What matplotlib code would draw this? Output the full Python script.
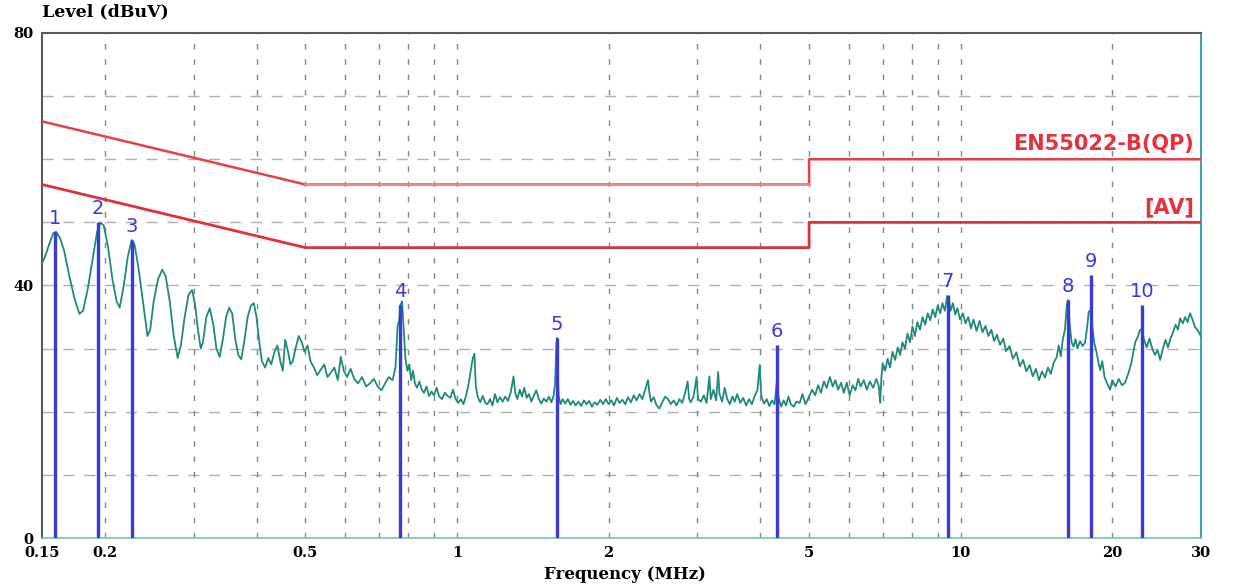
import matplotlib.pyplot as plt
from matplotlib.ticker import FixedLocator, NullLocator

# --- 測定データ (MHz, dBuV) ---
spec_freq = [
    0.150, 0.152, 0.155, 0.158, 0.160, 0.163, 0.166, 0.170, 0.174, 0.178,
    0.181, 0.185, 0.189, 0.193, 0.196, 0.199, 0.203, 0.207, 0.211, 0.214,
    0.218, 0.222, 0.226, 0.229, 0.233, 0.238, 0.243, 0.246, 0.250, 0.255,
    0.260, 0.264, 0.269, 0.274, 0.279, 0.283, 0.288, 0.293, 0.298, 0.302,
    0.306, 0.310, 0.313, 0.318, 0.323, 0.328, 0.333, 0.338, 0.343, 0.348,
    0.353, 0.358, 0.363, 0.368, 0.373, 0.378, 0.384, 0.390, 0.395, 0.400,
    0.405, 0.410, 0.416, 0.422, 0.428, 0.434, 0.440, 0.446, 0.451, 0.456,
    0.462, 0.467, 0.472, 0.478, 0.485, 0.492, 0.498, 0.505, 0.512, 0.520,
    0.528, 0.536, 0.545, 0.553, 0.562, 0.571, 0.580, 0.588, 0.596, 0.605,
    0.615, 0.625, 0.636, 0.648, 0.660, 0.672, 0.684, 0.696, 0.708, 0.720,
    0.732, 0.745, 0.755, 0.762, 0.768, 0.772, 0.778, 0.784, 0.790, 0.797,
    0.804, 0.811, 0.818, 0.825, 0.833, 0.842, 0.851, 0.860, 0.870, 0.880,
    0.890, 0.900, 0.911, 0.922, 0.934, 0.946, 0.958, 0.970, 0.982, 0.994,
    1.006, 1.018, 1.030, 1.042, 1.055, 1.065, 1.075, 1.083, 1.090, 1.100,
    1.112, 1.125, 1.138, 1.150, 1.163, 1.176, 1.190, 1.203, 1.217, 1.232,
    1.247, 1.262, 1.278, 1.295, 1.305, 1.318, 1.332, 1.346, 1.360, 1.375,
    1.390, 1.405, 1.420, 1.437, 1.454, 1.470, 1.487, 1.505, 1.522, 1.540,
    1.555, 1.566, 1.575, 1.580, 1.585, 1.592, 1.605, 1.622, 1.640, 1.660,
    1.680, 1.700, 1.720, 1.742, 1.764, 1.786, 1.808, 1.830, 1.853, 1.876,
    1.900, 1.925, 1.950, 1.975, 2.000, 2.025, 2.050, 2.077, 2.103, 2.130,
    2.158, 2.186, 2.215, 2.244, 2.273, 2.303, 2.333, 2.364, 2.395, 2.410,
    2.427, 2.458, 2.490, 2.523, 2.556, 2.590, 2.624, 2.658, 2.693, 2.728,
    2.764, 2.800, 2.837, 2.870, 2.890, 2.912, 2.950, 2.990, 3.010, 3.050,
    3.090, 3.130, 3.170, 3.190, 3.230, 3.270, 3.300, 3.320, 3.360, 3.400,
    3.440, 3.480, 3.520, 3.560, 3.600, 3.650, 3.700, 3.750, 3.800, 3.850,
    3.900, 3.950, 3.990, 4.020, 4.070, 4.120, 4.170, 4.220, 4.270, 4.318,
    4.350, 4.400, 4.450, 4.500, 4.550, 4.600, 4.660, 4.720, 4.790, 4.850,
    4.920, 5.000, 5.070, 5.140, 5.210, 5.280, 5.350, 5.420, 5.500, 5.570,
    5.640, 5.710, 5.790, 5.860, 5.940, 6.020, 6.100, 6.180, 6.260, 6.330,
    6.420, 6.510, 6.600, 6.700, 6.800, 6.880, 6.920, 6.960, 7.000, 7.080,
    7.160, 7.240, 7.320, 7.410, 7.500, 7.580, 7.660, 7.750, 7.840, 7.930,
    8.020, 8.110, 8.200, 8.300, 8.400, 8.500, 8.600, 8.700, 8.800, 8.900,
    9.000, 9.100, 9.200, 9.300, 9.400, 9.470, 9.550, 9.650, 9.750, 9.850,
    9.970, 10.10, 10.22, 10.35, 10.48, 10.60, 10.75, 10.90, 11.05, 11.20,
    11.35, 11.50, 11.65, 11.80, 11.97, 12.15, 12.30, 12.50, 12.70, 12.90,
    13.10, 13.30, 13.50, 13.70, 13.90, 14.10, 14.30, 14.50, 14.70, 14.90,
    15.10, 15.30, 15.50, 15.65, 15.80, 15.95, 16.10, 16.25, 16.33, 16.45,
    16.60, 16.75, 16.90, 17.05, 17.25, 17.45, 17.65, 17.80, 17.95, 18.10,
    18.25, 18.40, 18.60, 18.80, 18.92, 19.10, 19.30, 19.50, 19.79, 20.00,
    20.30, 20.60, 20.90, 21.20, 21.50, 21.80, 22.00, 22.20, 22.50, 22.70,
    22.91, 23.10, 23.40, 23.70, 24.00, 24.30, 24.60, 24.88, 25.20, 25.50,
    25.80, 26.04, 26.40, 26.70, 27.00, 27.26, 27.60, 27.90, 28.20, 28.53,
    28.85, 29.20, 29.60, 30.00,
]
spec_level = [
    43.5, 44.5, 46.5, 48.3, 48.5, 47.5, 45.5, 41.5, 38.0, 35.5,
    36.0, 39.5, 44.0, 48.5, 50.0, 49.5, 46.0, 41.0, 37.5, 36.5,
    40.0, 44.5, 47.2, 46.5, 43.0, 37.5, 32.0, 33.0, 37.5, 41.0,
    42.5, 41.5, 37.5, 32.0, 28.5, 30.5, 35.0, 38.5, 39.3, 37.0,
    33.0, 30.0, 31.0, 35.0, 36.4, 34.0, 30.0, 28.7, 31.5, 35.0,
    36.5, 35.5, 31.5, 29.0, 28.3, 31.0, 35.0, 36.8, 37.2, 35.0,
    31.0, 28.0, 27.0, 28.5, 27.5, 29.5, 30.5, 28.0, 26.5, 31.4,
    29.5, 27.5, 28.0, 30.0, 32.0, 31.0, 29.5, 30.5, 28.0, 27.0,
    25.8, 26.6, 27.5, 25.5, 26.2, 27.0, 25.0, 28.7, 26.5, 25.5,
    26.8, 25.2, 24.5, 25.5, 24.0, 24.5, 25.2, 24.0, 23.4, 24.5,
    25.5, 25.0, 27.0, 33.5, 34.5, 36.9, 37.5, 33.0, 28.5, 26.5,
    27.5, 25.0, 26.5, 24.5, 23.8, 24.8, 23.5, 23.0, 24.0, 22.5,
    23.2, 22.6, 23.8, 22.4, 22.0, 23.0, 22.5, 22.2, 23.5, 22.0,
    21.4, 22.0, 21.2, 22.5, 24.5, 26.5, 28.5, 29.2, 24.0, 22.3,
    21.5, 22.5, 21.4, 21.2, 22.0, 21.0, 22.8, 21.5, 22.3, 21.6,
    22.4, 21.7, 23.0, 25.6, 23.0, 22.0, 23.5, 22.4, 23.8, 22.2,
    22.8, 21.6, 22.5, 23.4, 22.0, 21.3, 22.1, 21.6, 22.4, 21.5,
    22.5, 24.5, 30.5, 31.7, 26.0, 22.5, 21.2, 22.0, 21.3, 22.0,
    21.1, 21.7, 21.0, 21.6, 20.9, 21.8, 21.2, 21.7, 20.8, 21.5,
    21.1, 21.9, 21.2, 22.0, 21.2, 21.8, 21.0, 22.2, 21.4, 21.9,
    21.2, 22.3, 21.5, 22.6, 21.8, 22.8, 22.0, 23.5, 25.0, 23.0,
    21.6, 22.3, 21.0, 20.5, 21.5, 22.4, 22.0, 21.2, 21.8, 21.0,
    22.0, 21.4, 23.0, 24.8, 22.0, 21.5, 22.5, 25.5, 22.0, 21.6,
    22.6, 21.4, 25.6, 22.0, 23.5, 21.8, 26.3, 22.8, 21.6, 23.8,
    22.0, 21.2, 22.4, 21.6, 22.8, 21.4, 22.2, 21.0, 22.0, 21.2,
    22.5, 23.5, 27.4, 22.4, 21.3, 22.0, 20.9, 21.8, 21.2, 25.0,
    22.2, 20.8, 21.8, 21.0, 22.4, 21.2, 20.8, 21.6, 21.4, 22.8,
    21.2, 22.4, 23.5, 22.6, 24.2, 23.0, 24.8, 23.8, 25.5, 24.0,
    25.0, 23.5, 24.6, 23.0, 24.6, 22.6, 24.2, 23.4, 25.2, 24.0,
    25.0, 23.5, 24.8, 23.8, 25.2, 24.0, 21.4, 25.5, 27.7, 26.5,
    28.4, 27.0, 29.5, 28.2, 30.2, 29.0, 31.0, 30.0, 32.4, 31.0,
    33.5, 32.0, 34.2, 33.0, 35.0, 33.8, 35.6, 34.5, 36.2, 35.0,
    36.8, 35.6, 37.2, 36.0, 38.3, 38.0, 36.0, 37.2, 35.4, 36.4,
    34.6, 35.6, 34.0, 35.0, 33.2, 34.6, 32.8, 34.4, 32.6, 33.6,
    32.0, 33.0, 31.2, 32.2, 30.6, 31.6, 29.6, 30.4, 28.4, 29.4,
    27.2, 28.2, 26.4, 27.4, 25.6, 26.8, 25.0, 26.4, 25.4, 27.0,
    26.0, 27.8, 28.6, 30.5, 28.8, 31.5, 33.0, 37.0, 37.7, 34.0,
    31.0, 30.3, 31.5, 30.0, 31.2, 30.4, 30.9, 33.0, 35.8, 36.1,
    33.5, 31.0, 29.5, 27.5, 26.6, 28.0, 25.5, 24.6, 23.5, 25.0,
    24.0, 25.2, 24.2, 24.6, 26.0, 27.6, 29.3, 31.0, 32.0, 33.0,
    33.0, 31.5, 30.2, 31.6, 30.0, 29.0, 29.8, 28.2, 30.0, 31.4,
    30.2, 31.4, 32.6, 33.8, 33.0, 34.8, 34.0, 35.0, 34.2, 35.6,
    34.6, 33.4, 32.8, 31.9,
]

# --- マーカー ---
marker_no = ["1", "2", "3", "4", "5", "6", "7", "8", "9", "10"]
marker_freq = [0.159, 0.194, 0.226, 0.771, 1.580, 4.318, 9.437, 16.33, 18.15, 22.91]
marker_level = [48.5, 50.1, 47.2, 36.9, 31.7, 30.6, 38.5, 37.7, 41.7, 36.9]

# --- 限度値 EN55022 Class B ---
qp_freq = [0.15, 0.5, 5.0, 5.0, 30.0]
qp_level = [66, 56, 56, 60, 60]
av_freq = [0.15, 0.5, 5.0, 5.0, 30.0]
av_level = [56, 46, 46, 50, 50]

xtick_vals = [0.15, 0.2, 0.5, 1, 2, 5, 10, 20, 30]
xtick_text = ["0.15", "0.2", "0.5", "1", "2", "5", "10", "20", "30"]
vgrid = [0.2, 0.3, 0.4, 0.5, 0.6, 0.7, 0.8, 0.9, 1, 2, 3, 4, 5, 6, 7, 8, 9, 10, 20]
hgrid = [10, 20, 30, 40, 50, 60, 70]

SERIF = "DejaVu Serif"

fig, ax = plt.subplots(figsize=(12.45, 5.86), dpi=100)
fig.subplots_adjust(left=0.0337, right=0.9647, top=0.9437, bottom=0.0819)

ax.set_xscale("log")
ax.set_xlim(0.15, 30)
ax.set_ylim(0, 80)

# --- グリッド ---
for y in hgrid:
    ax.axhline(y, color="#b0b0b0", lw=1.0, dashes=(8, 7), zorder=1)
for x in vgrid:
    ax.axvline(x, color="#7a8a84", lw=1.0, dashes=(4, 7), zorder=1)

# --- 限度線 ---
ax.plot(qp_freq, qp_level, color="#e8404a", lw=1.8, zorder=3)
ax.plot(qp_freq[1:3], qp_level[1:3], color="#f08890", lw=1.8, zorder=3)
ax.plot(av_freq, av_level, color="#e0303a", lw=2.0, zorder=3)
ax.text(29.0, 60.8, "EN55022-B(QP)", color="#e8303a", fontsize=15,
        fontweight="bold", ha="right", va="bottom", zorder=5)
ax.text(29.0, 50.8, "[AV]", color="#e8303a", fontsize=15,
        fontweight="bold", ha="right", va="bottom", zorder=5)

# --- スペクトル ---
ax.plot(spec_freq, spec_level, color="#1f8a7c", lw=1.3, zorder=4)

# --- マーカー線と番号 ---
ax.vlines(marker_freq, 0, marker_level, color="#3a3ad8", lw=2.4, zorder=5)
for no, f, lv in zip(marker_no, marker_freq, marker_level):
    ax.text(f, lv + 0.6, no, color="#3a3ae0", fontsize=14, ha="center",
            va="bottom", zorder=6)

# --- 軸 ---
ax.xaxis.set_major_locator(FixedLocator(xtick_vals))
ax.xaxis.set_minor_locator(NullLocator())
ax.set_xticklabels(xtick_text, fontfamily=SERIF, fontweight="bold", fontsize=10.5)
ax.set_yticks([0, 40, 80])
ax.set_yticklabels(["0", "40", "80"], fontfamily=SERIF, fontweight="bold", fontsize=10.5)
ax.tick_params(axis="both", length=0, pad=6)

for side in ["left", "top"]:
    ax.spines[side].set_color("#5a5a5a")
    ax.spines[side].set_linewidth(1.5)
ax.spines["right"].set_color("#3aa6b0")
ax.spines["right"].set_linewidth(1.5)
ax.spines["bottom"].set_color("#7cc0b0")
ax.spines["bottom"].set_linewidth(1.2)

fig.text(0.034, 0.995, "Level (dBuV)", fontfamily=SERIF, fontweight="bold",
         fontsize=12.5, ha="left", va="top")
fig.text(0.502, 0.005, "Frequency (MHz)", fontfamily=SERIF, fontweight="bold",
         fontsize=12, ha="center", va="bottom")

fig.savefig("out.png", dpi=100)
